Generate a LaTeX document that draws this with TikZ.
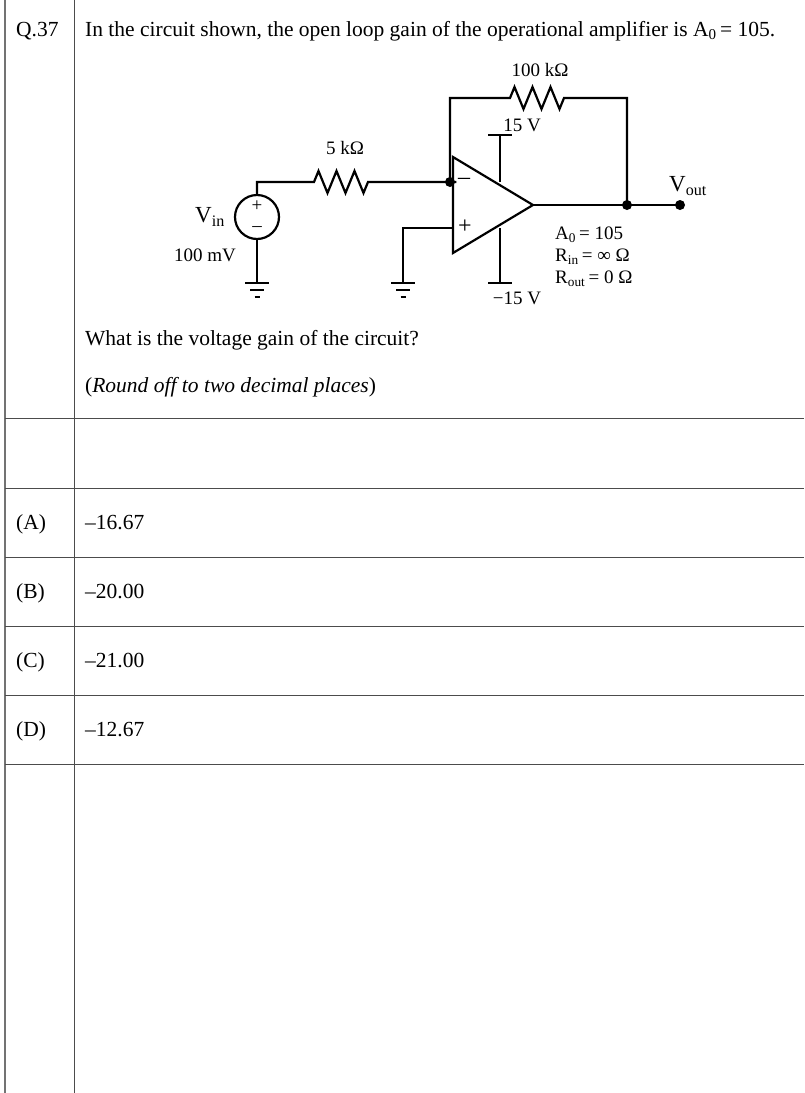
\documentclass[tikz,border=0pt]{standalone}
\usepackage{fontspec}
\setmainfont{Liberation Serif}
\begin{document}
\begin{tikzpicture}[
    x=1pt, y=-1pt,
    % styles of the picture
    wire/.style={line width=2.2pt, line cap=rect},
    rule/.style={line width=0.8pt, draw=black!70},
    txt/.style={font=\fontsize{21.5}{24}\selectfont, inner sep=0pt, anchor=base west},
    lbl/.style={font=\fontsize{19}{21}\selectfont, inner sep=0pt},
    sign/.style={font=\fontsize{24}{24}\selectfont, inner sep=0pt},
    dot/.style={circle, fill=black, inner sep=0pt, minimum size=10pt},
    gnd/.style={line width=2.2pt}
    ]
    \useasboundingbox (0,0) rectangle (804,1093);
    % ========== table ==========
    \draw [rule, line width=1.5pt, draw=black!55] (5,0) -- (5,1093);
    \draw [rule] (74,0) -- (74,1093);
    \foreach \y in {418, 488, 557, 626, 695, 764}
        \draw [rule] (5,\y) -- (804,\y);
    \node [txt] (qno) at (16,36) {Q.37};
    \node [txt] (qtext) at (85,36) {In the circuit shown, the open loop gain of the operational amplifier is A\textsubscript{0}\,= 105.};
    \node [txt] (ask) at (85,345) {What is the voltage gain of the circuit?};
    \node [txt] (round) at (85,392) {(\textit{Round off to two decimal places})};
    \foreach \n/\o/\v/\y in {a/A/16.67/529, b/B/20.00/598, c/C/21.00/667, d/D/12.67/736} {
        \node [txt] (opt\n) at (16,\y) {(\o)};
        \node [txt] (val\n) at (85,\y) {–\v};
    }
    % ========== circuit ==========
    \coordinate (inm) at (453,182);
    \coordinate (inp) at (453,228);
    \coordinate (tip) at (533,205);
    \draw [wire, line join=miter] (453,157) -- (453,253) -- (tip) -- cycle;
    \node [sign] (minus) at (464,181) {–};
    \node [sign] (plus) at (465,227) {+};
    % supply
    \draw [wire] (500,181) -- (500,135) coordinate (vtop);
    \draw [wire] (489,135) -- (511,135);
    \draw [wire] (500,229) -- (500,283);
    \draw [wire] (489,283) -- (511,283);
    \node [lbl] (vpos) at (522,125) {15 V};
    \node [lbl] (vneg) at (517,298) {−15 V};
    % source
    \node [circle, draw, line width=2.2pt, minimum size=44pt, inner sep=0pt] (src) at (257,217) {};
    \node [sign, font=\fontsize{19}{19}\selectfont] (srcp) at (257,206) {+};
    \node [sign, font=\fontsize{19}{19}\selectfont] (srcm) at (257,229) {–};
    \node [lbl, font=\fontsize{23}{23}\selectfont] (vin) at (210,217) {V\textsubscript{in}};
    \node [lbl] (vinval) at (205,255) {100 mV};
    % input branch
    \node [dot] (njoin) at (450,182) {};
    \draw [wire] (src.north) -- (257,182) -- (314,182)
        -- ++(4.5,-11) -- ++(9,22) -- ++(9,-22) -- ++(9,22) -- ++(9,-22) -- ++(9,22) -- ++(4.5,-11)
        -- (njoin) -- (inm);
    \node [lbl] (rin) at (345,148) {5 kΩ};
    % feedback
    \node [dot] (nout) at (627,205) {};
    \node [dot] (vout) at (680,205) {};
    \draw [wire] (tip) -- (nout) -- (vout);
    \draw [wire] (njoin) -- (450,98) -- (510,98)
        -- ++(4.5,-11) -- ++(9,22) -- ++(9,-22) -- ++(9,22) -- ++(9,-22) -- ++(9,22) -- ++(4.5,-11)
        -- (627,98) -- (nout);
    \node [lbl] (rf) at (540,70) {100 kΩ};
    \node [lbl, font=\fontsize{23}{23}\selectfont] (voutl) at (688,186) {V\textsubscript{out}};
    % plus input to ground
    \draw [wire] (inp) -- (403,228) -- (403,283);
    \draw [wire] (src.south) -- (257,283);
    \foreach \g in {257, 403} {
        \draw [gnd] (\g-12,283) -- (\g+12,283);
        \draw [gnd] (\g-7,290) -- (\g+7,290);
        \draw [gnd] (\g-2.5,297) -- (\g+2.5,297);
    }
    % amplifier data
    \node [lbl, anchor=west] (a0) at (555,235) {A\textsubscript{0}\,= 105};
    \node [lbl, anchor=west] (rinf) at (555,257) {R\textsubscript{in}\,= ∞ Ω};
    \node [lbl, anchor=west] (rout) at (555,279) {R\textsubscript{out}\,= 0 Ω};
\end{tikzpicture}
\end{document}
